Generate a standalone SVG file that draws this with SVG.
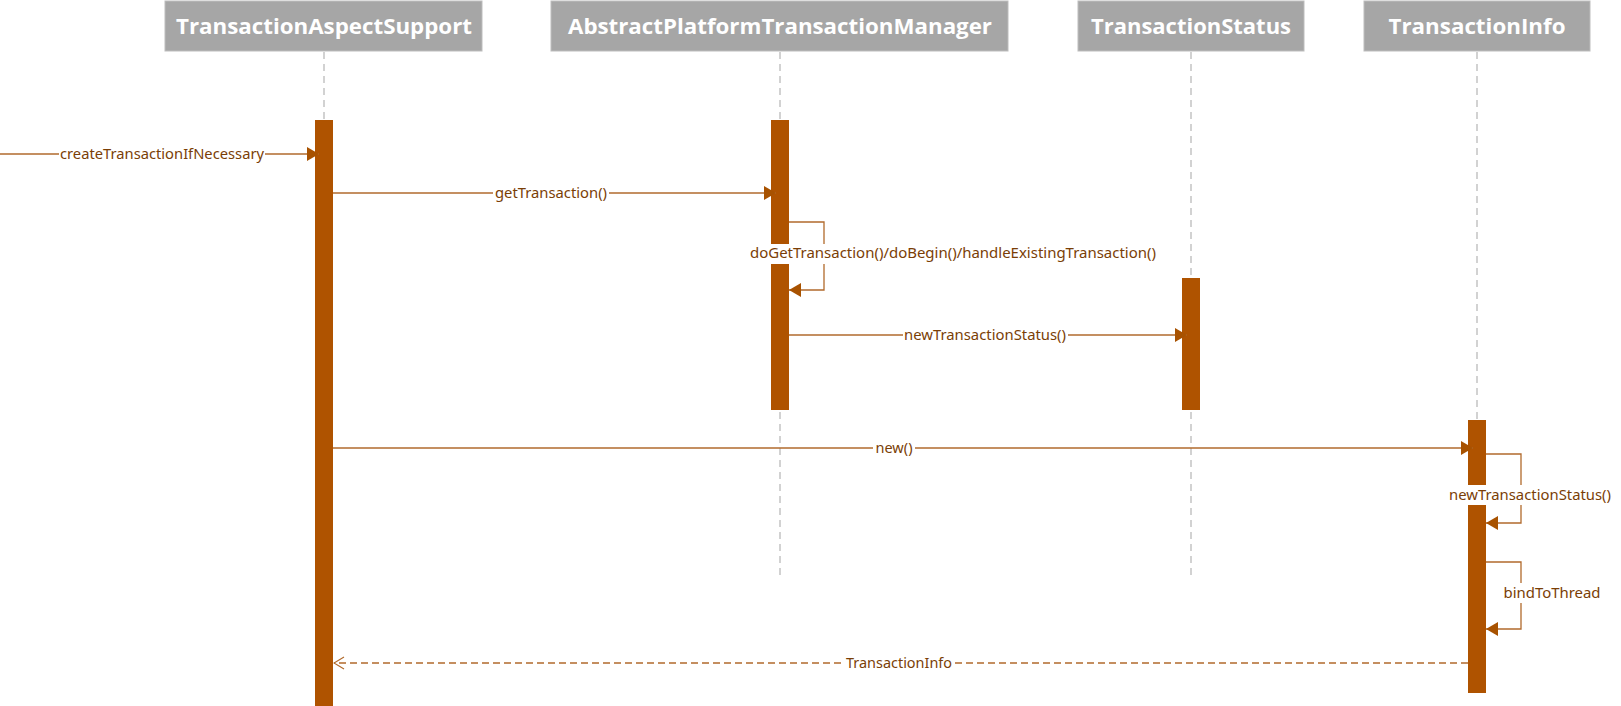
<svg xmlns="http://www.w3.org/2000/svg" width="1621" height="706" viewBox="0 0 1621 706">
<style>
.hdr{fill:#A6A6A6;stroke:#BDBDBD;stroke-width:1}
.htxt{font-family:"Open Sans","Noto Sans",sans-serif;font-weight:bold;font-size:22px;fill:#FFFFFF;text-anchor:middle}
.life{stroke:#C4C4C4;stroke-width:1.5;stroke-dasharray:7 5;fill:none}
.bar{fill:#AF5300}
.msg{stroke:#B16A2C;stroke-width:1.3;fill:none}
.ret{stroke:#B16A2C;stroke-width:1.3;fill:none;stroke-dasharray:7 4}
.lbl{font-family:"Noto Sans","Open Sans",sans-serif;font-size:14px;fill:#7A3E06;text-anchor:middle}
.bg{fill:#FFFFFF}
</style>
<defs>
<marker id="fa" markerUnits="userSpaceOnUse" markerWidth="14" markerHeight="16" refX="13" refY="8" orient="auto">
<path d="M1,1 L13,8 L1,15 z" fill="#A85200"/>
</marker>
<marker id="oa" markerUnits="userSpaceOnUse" markerWidth="12" markerHeight="14" refX="11" refY="7" orient="auto">
<path d="M1,1 L11,7 L1,13" fill="none" stroke="#B16A2C" stroke-width="1.2"/>
</marker>
</defs>
<rect x="0" y="0" width="1621" height="706" fill="#FFFFFF"/>

<g id="TransactionAspectSupport">
<rect class="hdr" x="165" y="1" width="317" height="50"/>
<text class="htxt" x="324" y="34" textLength="296" lengthAdjust="spacingAndGlyphs">TransactionAspectSupport</text>
<line class="life" x1="324" y1="52" x2="324" y2="120"/>
<rect class="bar" x="315" y="120" width="18" height="586"/>
</g>

<g id="AbstractPlatformTransactionManager">
<rect class="hdr" x="551" y="1" width="457" height="50"/>
<text class="htxt" x="780" y="34" textLength="424" lengthAdjust="spacingAndGlyphs">AbstractPlatformTransactionManager</text>
<line class="life" x1="780" y1="52" x2="780" y2="575"/>
<rect class="bar" x="771" y="120" width="18" height="290"/>
</g>

<g id="TransactionStatus">
<rect class="hdr" x="1078" y="1" width="226" height="50"/>
<text class="htxt" x="1191" y="34" textLength="200" lengthAdjust="spacingAndGlyphs">TransactionStatus</text>
<line class="life" x1="1191" y1="52" x2="1191" y2="575"/>
<rect class="bar" x="1182" y="278" width="18" height="132"/>
</g>

<g id="TransactionInfo">
<rect class="hdr" x="1364" y="1" width="226" height="50"/>
<text class="htxt" x="1477" y="34" textLength="177" lengthAdjust="spacingAndGlyphs">TransactionInfo</text>
<line class="life" x1="1477" y1="52" x2="1477" y2="420"/>
<rect class="bar" x="1468" y="420" width="18" height="273"/>
</g>

<g id="connectors">
<!-- createTransactionIfNecessary -->
<line class="msg" x1="0" y1="154" x2="319" y2="154" marker-end="url(#fa)"/>
<rect class="bg" x="59" y="145" width="206" height="18"/>
<text class="lbl" x="162" y="159" textLength="204" lengthAdjust="spacingAndGlyphs">createTransactionIfNecessary</text>

<!-- getTransaction() -->
<line class="msg" x1="333" y1="193" x2="776" y2="193" marker-end="url(#fa)"/>
<rect class="bg" x="493" y="184" width="116" height="18"/>
<text class="lbl" x="551" y="198" textLength="112" lengthAdjust="spacingAndGlyphs">getTransaction()</text>

<!-- self call APTM -->
<path class="msg" d="M789,222 H824 V290 H789" marker-end="url(#fa)"/>
<rect class="bg" x="748" y="244" width="410" height="20"/>
<text class="lbl" x="953" y="258" textLength="406" lengthAdjust="spacingAndGlyphs">doGetTransaction()/doBegin()/handleExistingTransaction()</text>

<!-- newTransactionStatus() to TS -->
<line class="msg" x1="789" y1="335" x2="1187" y2="335" marker-end="url(#fa)"/>
<rect class="bg" x="903" y="326" width="165" height="18"/>
<text class="lbl" x="985" y="340" textLength="162" lengthAdjust="spacingAndGlyphs">newTransactionStatus()</text>

<!-- new() -->
<line class="msg" x1="333" y1="448" x2="1473" y2="448" marker-end="url(#fa)"/>
<rect class="bg" x="873" y="439" width="42" height="18"/>
<text class="lbl" x="894" y="453" textLength="37" lengthAdjust="spacingAndGlyphs">new()</text>

<!-- self call TI newTransactionStatus() -->
<path class="msg" d="M1486,454 H1521 V523 H1486" marker-end="url(#fa)"/>
<rect class="bg" x="1448" y="485" width="165" height="20"/>
<text class="lbl" x="1530" y="500" textLength="162" lengthAdjust="spacingAndGlyphs">newTransactionStatus()</text>

<!-- self call TI bindToThread -->
<path class="msg" d="M1486,562 H1521 V629 H1486" marker-end="url(#fa)"/>
<rect class="bg" x="1503" y="583" width="99" height="20"/>
<text class="lbl" x="1552" y="598" textLength="97" lengthAdjust="spacingAndGlyphs">bindToThread</text>

<!-- return TransactionInfo -->
<line class="ret" x1="1468" y1="663" x2="334" y2="663" marker-end="url(#oa)"/>
<rect class="bg" x="845" y="654" width="108" height="18"/>
<text class="lbl" x="899" y="668" textLength="106" lengthAdjust="spacingAndGlyphs">TransactionInfo</text>
</g>
</svg>
